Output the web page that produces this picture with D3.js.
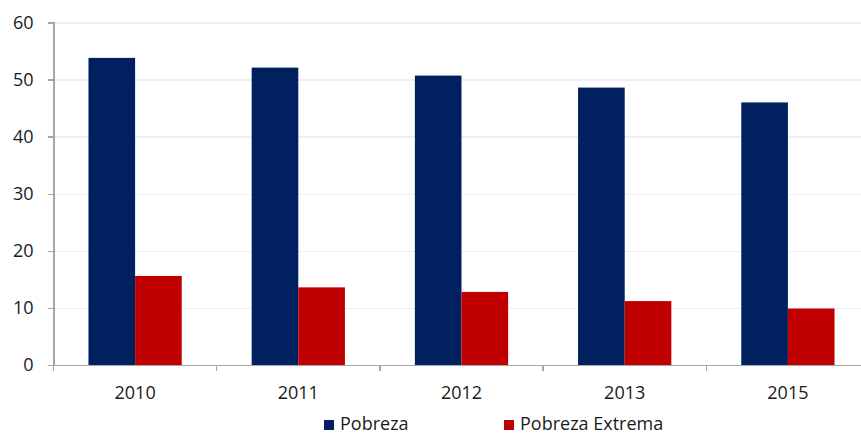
<!DOCTYPE html>
<meta charset="utf-8">
<style>
body { margin: 0; background: #fff; }
svg { font-family: "Open Sans", "Liberation Sans", sans-serif; }
.grid line { stroke: #efefef; stroke-width: 1.5; shape-rendering: crispEdges; }
.grid path { display: none; }
.axis path, .axis line { stroke: #a6a6a6; stroke-width: 1.5; shape-rendering: crispEdges; }
.axis text { fill: #1a1a1a; font-size: 18px; font-family: "Open Sans", "Liberation Sans", sans-serif; }
.legend text { fill: #1a1a1a; font-size: 18px; }
</style>
<svg width="861" height="435"></svg>
<script src="https://d3js.org/d3.v7.min.js"></script>
<script>
// years and the two series (percent)
var years = ["2010", "2011", "2012", "2013", "2015"];
var pobreza = [53.8, 52.1, 50.7, 48.6, 46.0];
var pobrezaExtrema = [15.6, 13.6, 12.8, 11.2, 9.9];
var yTicks = [0, 10, 20, 30, 40, 50, 60];
var seriesNames = ["Pobreza", "Pobreza Extrema"];
var colors = ["#002060", "#c00000"];

var svg = d3.select("svg");
var mLeft = 53.5, mTop = 22.5, mBottom = 365, plotW = 816;

var x = d3.scaleBand().domain(years).range([mLeft, mLeft + plotW]);
var inner = d3.scaleBand().domain(seriesNames).range([0, x.bandwidth()]).paddingOuter(0.75).paddingInner(0);
var y = d3.scaleLinear().domain([0, 60]).range([mBottom, mTop]);

svg.append("g")
    .attr("class", "grid")
    .attr("transform", "translate(" + mLeft + ",0)")
    .call(d3.axisLeft(y).tickValues(yTicks.slice(1)).tickSize(-plotW).tickFormat(""));

var data = years.map(function(yr, i) {
    return {year: yr, vals: [pobreza[i], pobrezaExtrema[i]]};
});

var groups = svg.append("g").selectAll("g")
    .data(data)
    .enter().append("g")
    .attr("transform", function(d) { return "translate(" + x(d.year) + ",0)"; });

groups.selectAll("rect")
    .data(function(d) { return d.vals.map(function(v, j) { return {name: seriesNames[j], v: v, j: j}; }); })
    .enter().append("rect")
    .attr("x", function(d) { return inner(d.name); })
    .attr("width", inner.bandwidth())
    .attr("y", function(d) { return y(d.v); })
    .attr("height", function(d) { return mBottom - y(d.v); })
    .attr("fill", function(d) { return colors[d.j]; });

svg.append("g")
    .attr("class", "axis")
    .attr("transform", "translate(" + mLeft + ",0)")
    .call(d3.axisLeft(y).tickValues(yTicks).tickSize(6).tickSizeOuter(6).tickPadding(14));

var xAxis = svg.append("g")
    .attr("class", "axis")
    .attr("transform", "translate(0," + mBottom + ")")
    .call(d3.axisBottom(x).tickSize(0).tickPadding(21));

// category boundary ticks
xAxis.selectAll(".bound")
    .data(years)
    .enter().append("line")
    .attr("class", "bound")
    .attr("x1", function(d) { return x(d); })
    .attr("x2", function(d) { return x(d); })
    .attr("y1", 0).attr("y2", 6);

var legend = svg.append("g").attr("class", "legend");
var lx = [324, 504];
seriesNames.forEach(function(n, i) {
    legend.append("rect")
        .attr("x", lx[i]).attr("y", 420)
        .attr("width", 10).attr("height", 10)
        .attr("fill", colors[i]);
    legend.append("text")
        .attr("x", lx[i] + 16).attr("y", 430)
        .text(n);
});
</script>
